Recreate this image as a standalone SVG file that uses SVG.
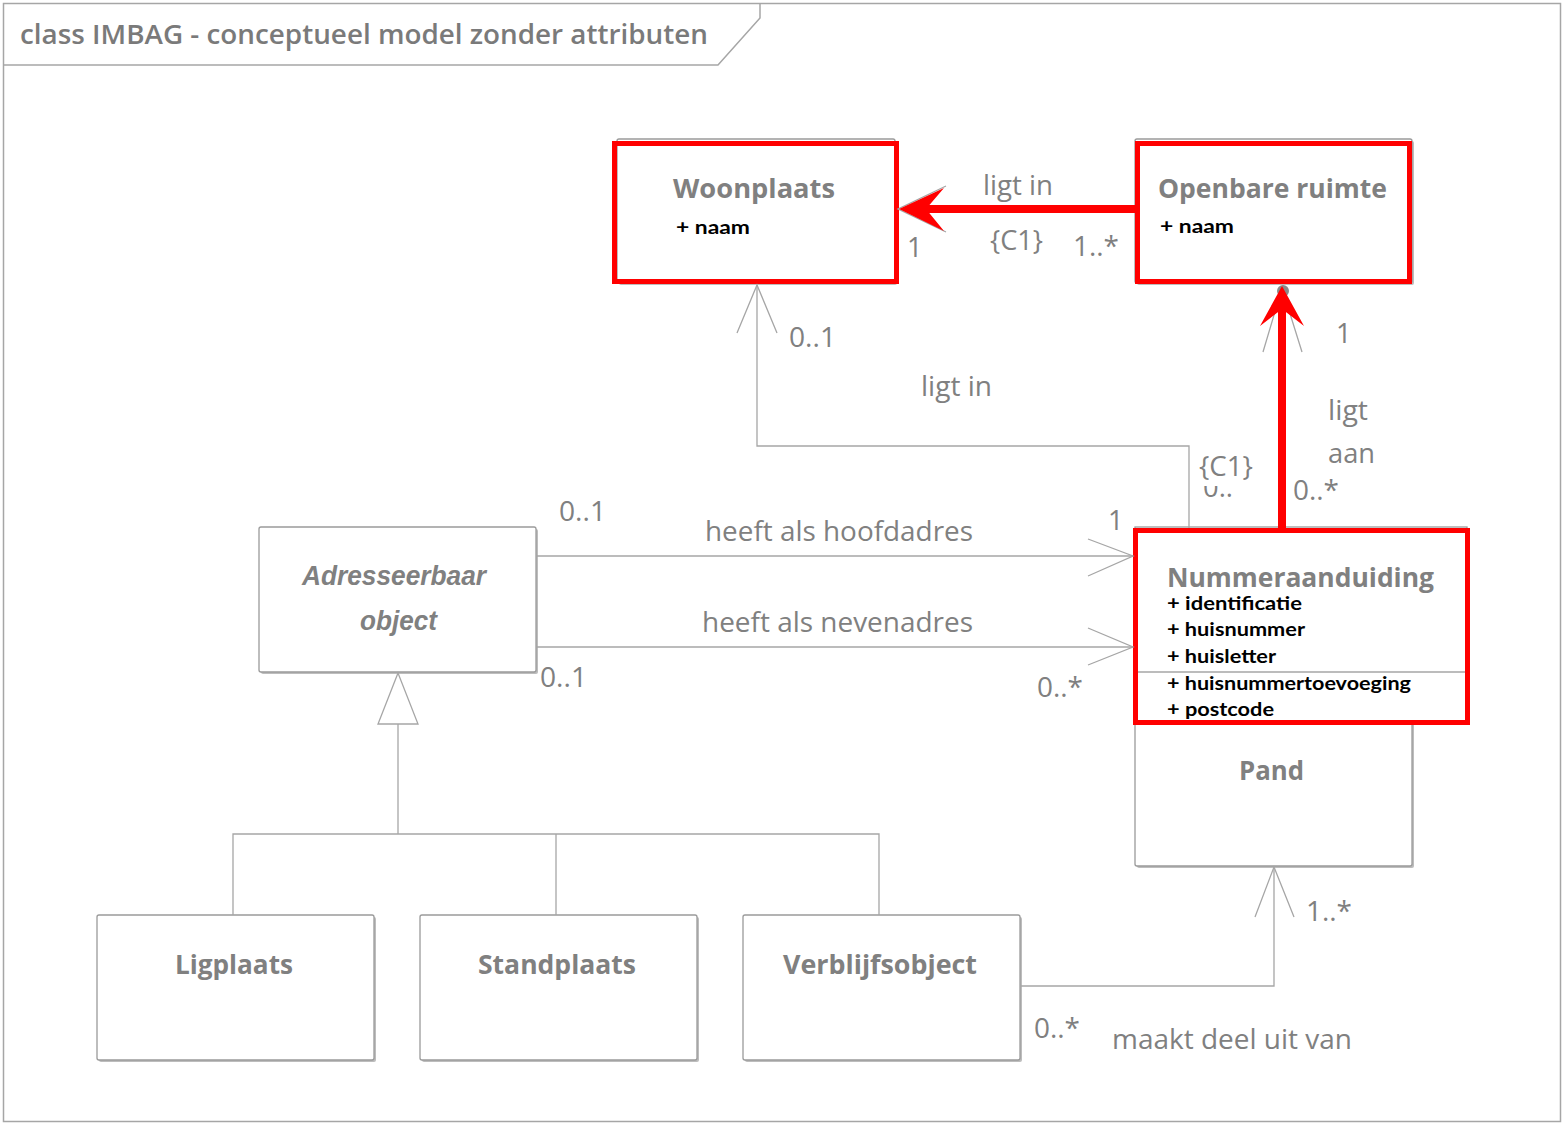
<svg xmlns="http://www.w3.org/2000/svg" width="1564" height="1125" viewBox="0 0 1564 1125">
<style>
.frame{fill:none;stroke:#a6a6a6;stroke-width:1.5}
.box{fill:#fff;stroke:#9a9a9a;stroke-width:1.3}
.shadow{fill:#bdbdbd}
.hl{fill:none;stroke:#ff0000;stroke-width:5}
.ln{fill:none;stroke:#a6a6a6;stroke-width:1.3}
.red{fill:none;stroke:#ff0000;stroke-width:8}
.redhead{fill:#ff0000;stroke:none}
.lbl{font-family:"Open Sans","Liberation Sans",sans-serif;font-size:27px;fill:#808080}
.ttl{font-family:"Open Sans","Liberation Sans",sans-serif;font-size:27px;font-weight:700;fill:#808080}
.itl{font-family:"Liberation Sans",Arial,sans-serif;font-size:28px;font-weight:700;font-style:italic;fill:#808080}
.attr{font-family:"Lato","Liberation Sans",sans-serif;font-size:18px;font-weight:700;fill:#000}
.mid{text-anchor:middle}
</style>
<defs>
<clipPath id="cl"><rect x="1195" y="486" width="60" height="20"/></clipPath>
</defs>
<rect width="1564" height="1125" fill="#fff"/>
<g id="frame">
<rect class="frame" x="3.5" y="3.5" width="1557" height="1118"/>
<polyline class="frame" points="3.5,65 718,65 760,18 760,3.5"/>
<text x="20" y="44" font-family="Open Sans, Liberation Sans, sans-serif" font-size="27" font-weight="600" fill="#7a7a7a" textLength="688" lengthAdjust="spacingAndGlyphs">class IMBAG - conceptueel model zonder attributen</text>
</g>
<g id="woonplaats">
<rect class="shadow" x="619" y="141" width="278" height="144" rx="2"/>
<rect class="box" x="617" y="139" width="278" height="144" rx="2"/>
<rect class="hl" x="614.5" y="143.5" width="282" height="138"/>
<text class="ttl" x="673" y="198" textLength="162" lengthAdjust="spacingAndGlyphs">Woonplaats</text>
<text class="attr" x="676" y="234" textLength="74" lengthAdjust="spacingAndGlyphs">+ naam</text>
</g>
<g id="openbare-ruimte">
<rect class="shadow" x="1137" y="141" width="277" height="144" rx="2"/>
<rect class="box" x="1135" y="139" width="277" height="144" rx="2"/>
<rect class="hl" x="1137.5" y="143.5" width="272" height="138"/>
<text class="ttl" x="1158" y="198" textLength="229" lengthAdjust="spacingAndGlyphs">Openbare ruimte</text>
<text class="attr" x="1160" y="233" textLength="74" lengthAdjust="spacingAndGlyphs">+ naam</text>
</g>
<g id="adresseerbaar-object">
<rect class="shadow" x="261" y="529" width="277" height="145" rx="2"/>
<rect class="box" x="259" y="527" width="277" height="145" rx="2"/>
<text class="itl" x="302" y="585" textLength="184" lengthAdjust="spacingAndGlyphs">Adresseerbaar</text>
<text class="itl" x="360" y="630" textLength="77" lengthAdjust="spacingAndGlyphs">object</text>
</g>
<g id="pand">
<rect class="shadow" x="1137" y="721" width="277" height="147" rx="2"/>
<rect class="box" x="1135" y="719" width="277" height="147" rx="2"/>
<text class="ttl" x="1239" y="780" textLength="65" lengthAdjust="spacingAndGlyphs">Pand</text>
</g>
<g id="nummeraanduiding">
<rect class="box" x="1135" y="527" width="332" height="197"/>
<rect class="hl" x="1135.5" y="530.5" width="332" height="192"/>
<line class="ln" x1="1138" y1="672" x2="1465" y2="672"/>
<text class="ttl" x="1167" y="587" textLength="267" lengthAdjust="spacingAndGlyphs">Nummeraanduiding</text>
<text class="attr" x="1167" y="610" textLength="135" lengthAdjust="spacingAndGlyphs">+ identificatie</text>
<text class="attr" x="1167" y="636" textLength="138" lengthAdjust="spacingAndGlyphs">+ huisnummer</text>
<text class="attr" x="1167" y="663" textLength="109" lengthAdjust="spacingAndGlyphs">+ huisletter</text>
<text class="attr" x="1167" y="690" textLength="244" lengthAdjust="spacingAndGlyphs">+ huisnummertoevoeging</text>
<text class="attr" x="1167" y="716" textLength="107" lengthAdjust="spacingAndGlyphs">+ postcode</text>
</g>
<g id="ligplaats">
<rect class="shadow" x="99" y="917" width="277" height="145" rx="2"/>
<rect class="box" x="97" y="915" width="277" height="145" rx="2"/>
<text class="ttl" x="175" y="974" textLength="118" lengthAdjust="spacingAndGlyphs">Ligplaats</text>
</g>
<g id="standplaats">
<rect class="shadow" x="422" y="917" width="277" height="145" rx="2"/>
<rect class="box" x="420" y="915" width="277" height="145" rx="2"/>
<text class="ttl" x="478" y="974" textLength="158" lengthAdjust="spacingAndGlyphs">Standplaats</text>
</g>
<g id="verblijfsobject">
<rect class="shadow" x="745" y="917" width="277" height="145" rx="2"/>
<rect class="box" x="743" y="915" width="277" height="145" rx="2"/>
<text class="ttl" x="783" y="974" textLength="194" lengthAdjust="spacingAndGlyphs">Verblijfsobject</text>
</g>
<g id="connectors">
<!-- ligt in: Openbare ruimte -> Woonplaats (highlighted) -->
<polyline class="ln" points="946,186 898,209 946,232"/>
<line class="red" x1="925" y1="209" x2="1137" y2="209"/>
<polygon class="redhead" points="899,209 944,188 926,209 944,231"/>
<text class="lbl" x="983" y="195" textLength="70" lengthAdjust="spacingAndGlyphs">ligt in</text>
<text class="lbl" x="990" y="250" textLength="53" lengthAdjust="spacingAndGlyphs">{C1}</text>
<text class="lbl" x="1073" y="256" textLength="46" lengthAdjust="spacingAndGlyphs">1..*</text>
<text class="lbl" x="907" y="257">1</text>
<!-- ligt aan: Nummeraanduiding -> Openbare ruimte (highlighted) -->
<circle cx="1283" cy="291" r="6" fill="#8a8a8a"/>
<polyline class="ln" points="1263,352 1282,288 1302,352"/>
<line class="red" x1="1282" y1="308" x2="1282" y2="530"/>
<polygon class="redhead" points="1282,286 1304,326 1282,309 1260,326"/>
<text class="lbl" x="1336" y="343">1</text>
<text class="lbl" x="1328" y="420" textLength="40" lengthAdjust="spacingAndGlyphs">ligt</text>
<text class="lbl" x="1328" y="463" textLength="47" lengthAdjust="spacingAndGlyphs">aan</text>
<text class="lbl" x="1293" y="500" textLength="46" lengthAdjust="spacingAndGlyphs">0..*</text>
<!-- ligt in: Nummeraanduiding -> Woonplaats -->
<polyline class="ln" points="1189,528 1189,446 757,446 757,285"/>
<polyline class="ln" points="737,333 757,285 777,333"/>
<text class="lbl" x="789" y="347" textLength="47" lengthAdjust="spacingAndGlyphs">0..1</text>
<text class="lbl" x="921" y="396" textLength="71" lengthAdjust="spacingAndGlyphs">ligt in</text>
<text class="lbl" x="1199" y="476" textLength="54" lengthAdjust="spacingAndGlyphs">{C1}</text>
<text class="lbl" x="1203" y="497" clip-path="url(#cl)" textLength="30" lengthAdjust="spacingAndGlyphs">0..</text>
<!-- heeft als hoofdadres -->
<line class="ln" x1="536" y1="556" x2="1133" y2="556"/>
<polyline class="ln" points="1088,539 1133,556 1088,576"/>
<text class="lbl" x="559" y="521" textLength="47" lengthAdjust="spacingAndGlyphs">0..1</text>
<text class="lbl" x="705" y="541" textLength="268" lengthAdjust="spacingAndGlyphs">heeft als hoofdadres</text>
<text class="lbl" x="1108" y="530">1</text>
<!-- heeft als nevenadres -->
<line class="ln" x1="536" y1="647" x2="1133" y2="647"/>
<polyline class="ln" points="1088,628 1133,647 1088,665"/>
<text class="lbl" x="702" y="632" textLength="271" lengthAdjust="spacingAndGlyphs">heeft als nevenadres</text>
<text class="lbl" x="540" y="687" textLength="47" lengthAdjust="spacingAndGlyphs">0..1</text>
<text class="lbl" x="1037" y="697" textLength="46" lengthAdjust="spacingAndGlyphs">0..*</text>
<!-- generalization -->
<polygon class="ln" fill="#fff" points="398,673 378,724 418,724"/>
<polyline class="ln" points="398,724 398,834"/>
<polyline class="ln" points="233,915 233,834 879,834 879,915"/>
<line class="ln" x1="556" y1="834" x2="556" y2="915"/>
<!-- maakt deel uit van -->
<polyline class="ln" points="1021,986 1274,986 1274,867"/>
<polyline class="ln" points="1255,917 1274,867 1294,917"/>
<text class="lbl" x="1306" y="921" textLength="46" lengthAdjust="spacingAndGlyphs">1..*</text>
<text class="lbl" x="1034" y="1038" textLength="46" lengthAdjust="spacingAndGlyphs">0..*</text>
<text class="lbl" x="1112" y="1049" textLength="240" lengthAdjust="spacingAndGlyphs">maakt deel uit van</text>
</g>
</svg>
